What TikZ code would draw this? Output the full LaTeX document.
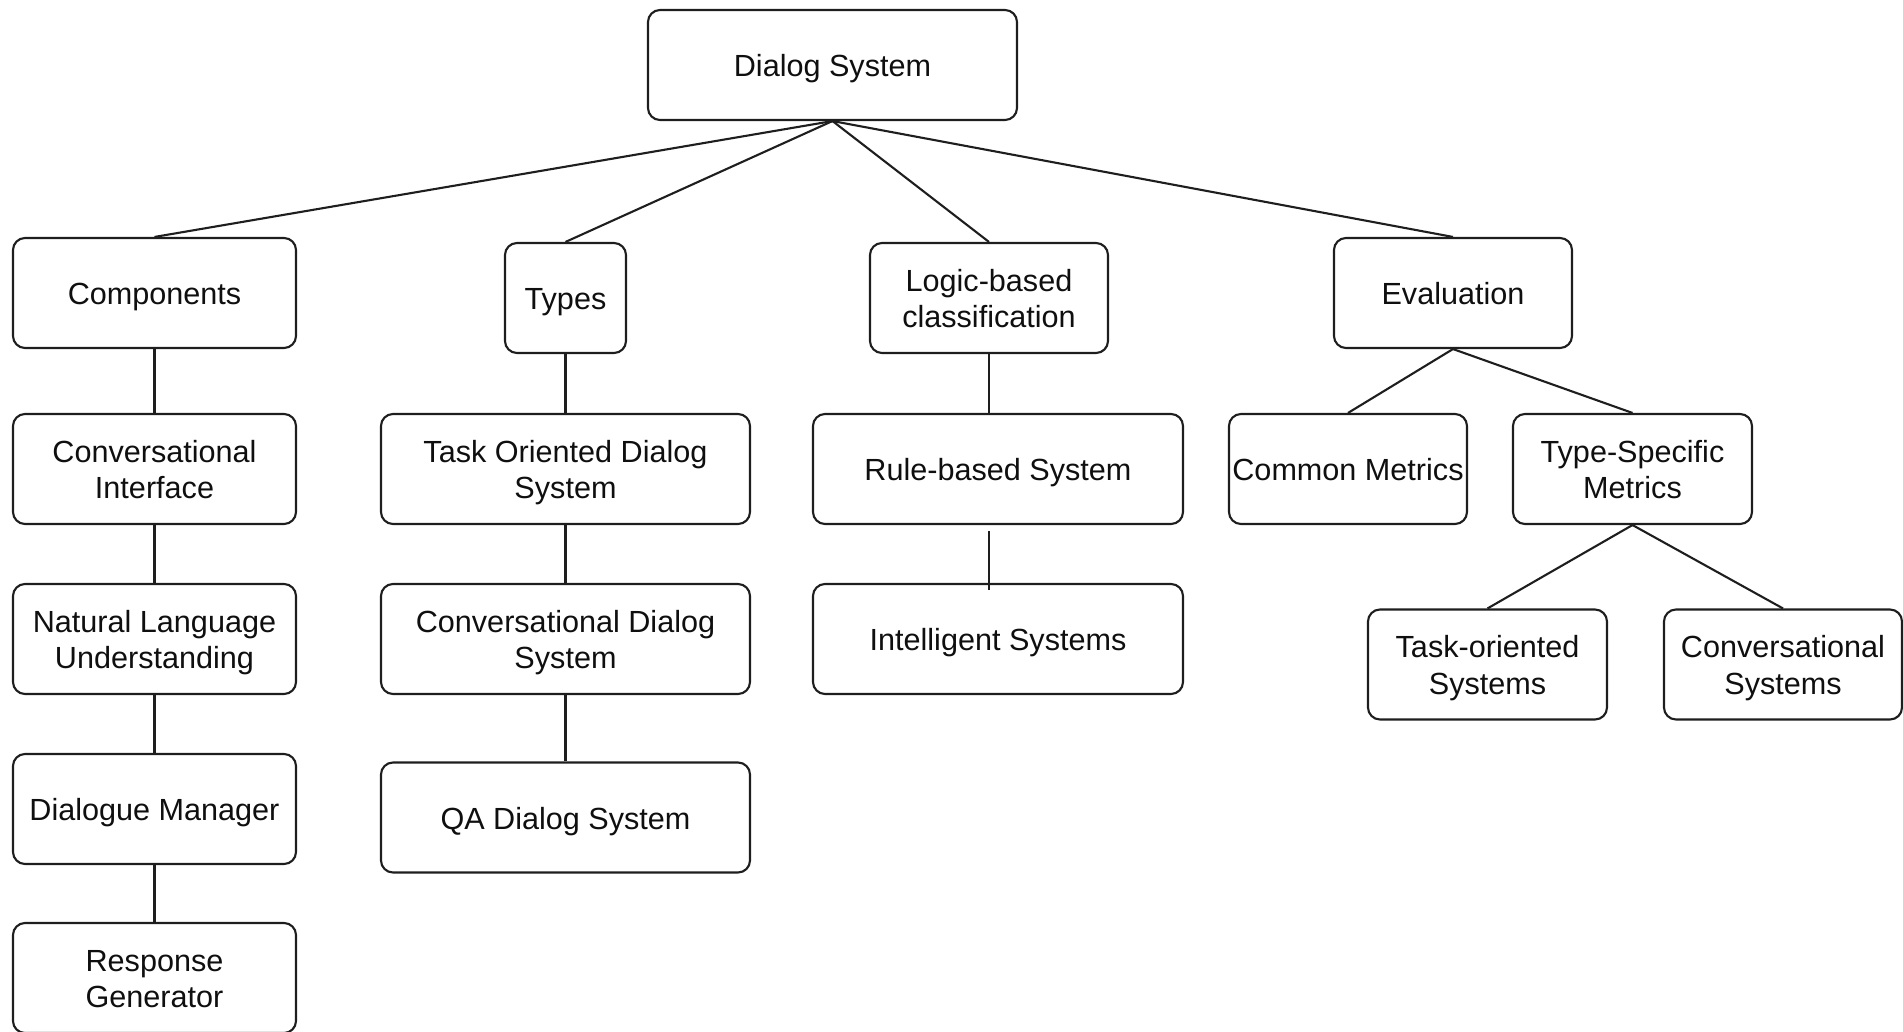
\documentclass[tikz,border=0pt]{standalone}
\usepackage{fontspec}
\setmainfont{Liberation Sans}
\definecolor{lineDark}{RGB}{30, 30, 30}
\definecolor{textDark}{RGB}{15, 15, 15}
\usepackage{tikz}
\usetikzlibrary{positioning, calc}

\begin{document}
\begin{tikzpicture}[
    x=0.5pt, y=-0.5pt,
    box/.style={rectangle, draw=lineDark, line width=1.05pt, rounded corners=6pt,
                minimum height=55pt, align=center, text=textDark,
                font=\fontsize{15.3}{18.2}\selectfont, inner sep=1pt,
                execute at begin node={\rule{0pt}{15pt}},
                execute at end node={\rule[-3.2pt]{0pt}{0pt}}},
    twoline/.style={box, execute at begin node={\rule{0pt}{33pt}}},
    link/.style={draw=lineDark, line width=1.05pt},
  ]
    \useasboundingbox (0,0) rectangle (1903,1032);

    % Root
    \node[box, minimum width=184.5pt] (DS) at (832.5,65) {Dialog System};

    % First level
    \node[box, minimum width=141.5pt] (COMP) at (154.5,293) {Components};
    \node[box, minimum width=60.5pt] (TYPES) at (565.5,298) {Types};
    \node[twoline, minimum width=119pt] (LOGIC) at (989,298) {Logic-based\\classification};
    \node[box, minimum width=119pt] (EVAL) at (1453,293) {Evaluation};
    \draw[link] (DS.south) -- (COMP.north);
    \draw[link] (DS.south) -- (TYPES.north);
    \draw[link] (DS.south) -- (LOGIC.north);
    \draw[link] (DS.south) -- (EVAL.north);

    % Components chain
    \node[twoline, minimum width=141.5pt] (CI) at (154.5,469) {Conversational\\Interface};
    \node[twoline, minimum width=141.5pt] (NLU) at (154.5,639) {Natural Language\\Understanding};
    \node[box, minimum width=141.5pt] (DM) at (154.5,809) {Dialogue Manager};
    \node[twoline, minimum width=141.5pt] (RG) at (154.5,978) {Response\\Generator};
    \draw[link] (COMP) -- (CI);
    \draw[link] (CI) -- (NLU);
    \draw[link] (NLU) -- (DM);
    \draw[link] (DM) -- (RG);

    % Types chain
    \node[twoline, minimum width=184.5pt] (TOD) at (565.5,469) {Task Oriented Dialog\\System};
    \node[twoline, minimum width=184.5pt] (CDS) at (565.5,639) {Conversational Dialog\\System};
    \node[box, minimum width=184.5pt] (QA) at (565.5,817.5) {QA Dialog System};
    \draw[link] (TYPES) -- (TOD);
    \draw[link] (TOD) -- (CDS);
    \draw[link] (CDS) -- (QA);

    % Logic-based chain
    \node[box, minimum width=185pt] (RULE) at (998,469) {Rule-based System};
    \node[box, minimum width=185pt] (INTEL) at (998,639) {Intelligent Systems};
    \draw[link] (LOGIC.south) -- (LOGIC.south |- RULE.north);
    \draw[link] ($(LOGIC.south |- RULE.south)+(0,6)$) -- ($(LOGIC.south |- INTEL.north)+(0,7)$);

    % Evaluation
    \node[box, minimum width=119pt, inner sep=0pt] (CM) at (1348,469) {Common Metrics};
    \node[twoline, minimum width=119.5pt] (TSM) at (1632.5,469) {Type-Specific\\Metrics};
    \node[twoline, minimum width=119.5pt] (TOS) at (1487.5,664.5) {Task-oriented\\Systems};
    \node[twoline, minimum width=119pt] (CS) at (1783,664.5) {Conversational\\Systems};
    \draw[link] (EVAL.south) -- (CM.north);
    \draw[link] (EVAL.south) -- (TSM.north);
    \draw[link] (TSM.south) -- (TOS.north);
    \draw[link] (TSM.south) -- (CS.north);
  \end{tikzpicture}
\end{document}
